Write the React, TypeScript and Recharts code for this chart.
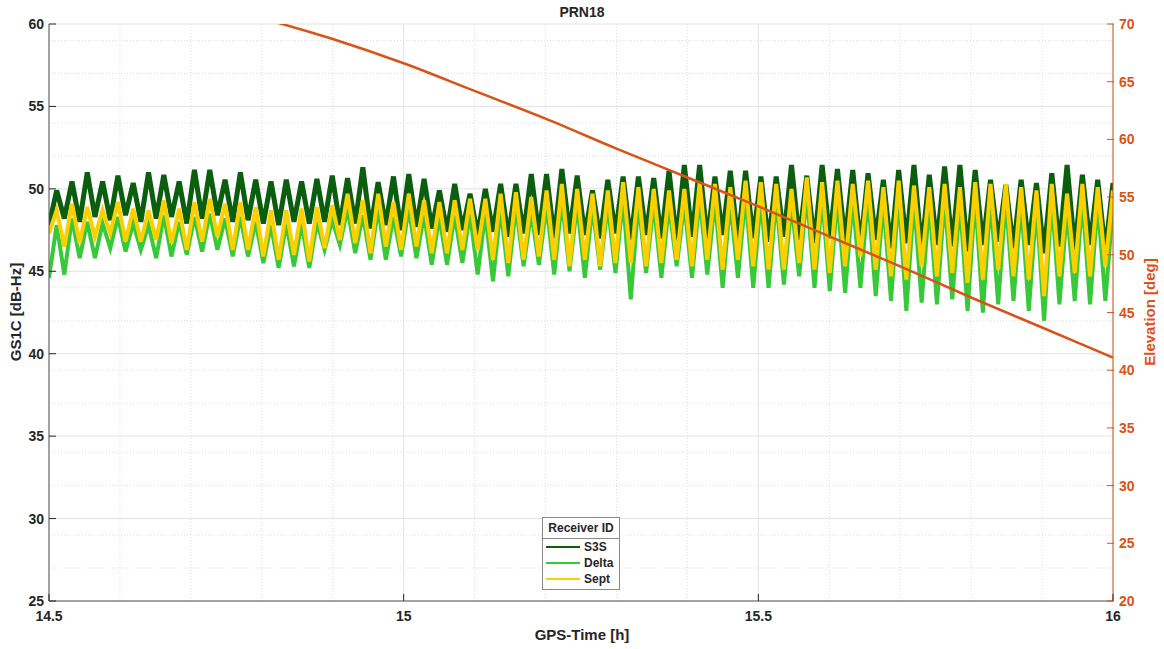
import { CartesianGrid, Line, LineChart, XAxis, YAxis } from "recharts";

// C/N0 per oscillation cycle (trough, peak), 14.5 h -> 16 h
const s3sLow = [
  47.8, 48.2, 48.0, 48.3, 48.1, 48.4, 48.0, 48.2, 48.3, 47.9, 48.2, 48.4, 48.0, 48.1, 47.9, 47.8, 48.0, 47.9,
  48.0, 47.8, 47.9, 47.6, 47.8, 47.5, 47.7, 47.6, 47.4, 47.5, 47.2, 47.4, 47.1, 47.3, 47.2, 47.0, 47.3, 47.2,
  47.0, 47.3, 46.9, 47.2, 47.0, 46.8, 47.1, 46.9, 47.2, 46.8, 47.0, 46.8, 47.1, 46.9, 46.7, 47.0,
  46.8, 46.5, 46.9, 46.4, 46.7, 46.3, 46.6, 46.5, 46.2, 46.6, 46.8, 46.4, 46.6, 46.1, 46.5, 46.3, 46.6, 46.2,
];
const s3sHigh = [
  49.9, 50.45, 51.0, 50.45, 50.8, 50.35, 51.0, 50.85, 50.45, 51.15, 51.15, 50.55, 51.0, 50.55, 50.45, 50.55, 50.45, 50.6,
  50.8, 50.65, 51.3, 50.4, 50.75, 50.9, 50.6, 49.9, 50.3, 49.7, 50.0, 50.3, 50.3, 50.9, 50.9, 51.2, 50.8, 49.9,
  50.55, 50.75, 50.75, 50.65, 51.1, 51.45, 51.45, 50.75, 51.1, 51.1, 50.75, 50.75, 51.45, 50.8, 51.45, 51.2,
  51.15, 50.95, 50.55, 51.15, 51.45, 50.85, 51.35, 51.45, 51.15, 50.55, 50.25, 50.55, 50.35, 50.95, 51.45, 50.85, 50.55, 50.35,
];
const deltaLow = [
  44.6, 44.8, 45.8, 45.8, 46.4, 46.2, 46.3, 45.8, 45.9, 46.0, 46.2, 46.3, 45.9, 45.9, 45.5, 45.2, 45.3, 45.2,
  46.3, 46.6, 46.1, 45.7, 45.7, 45.9, 45.8, 45.4, 45.4, 45.5, 44.8, 44.4, 44.7, 45.3, 45.4, 44.8, 45.0, 44.6,
  45.1, 44.9, 43.3, 44.9, 44.6, 45.3, 44.6, 44.8, 44.0, 44.6, 44.0, 44.0, 44.2, 44.7, 44.0, 43.8,
  43.7, 44.0, 43.5, 43.2, 42.6, 43.1, 43.0, 43.3, 42.6, 42.5, 43.0, 43.2, 42.6, 42.0, 43.0, 43.2, 43.0, 43.2,
];
const deltaHigh = [
  47.8, 48.2, 48.0, 47.9, 48.3, 47.9, 47.8, 48.4, 48.0, 48.3, 48.5, 48.2, 48.3, 48.0, 47.8, 47.9, 47.9, 48.0,
  48.1, 48.8, 48.4, 48.8, 48.3, 48.8, 48.4, 48.3, 48.4, 48.5, 48.5, 48.8, 48.9, 48.6, 49.0, 49.3, 49.1, 48.9,
  49.0, 49.4, 49.2, 49.1, 49.0, 49.1, 49.5, 49.3, 49.2, 49.6, 49.4, 49.4, 49.1, 49.7, 49.5, 49.5,
  49.4, 49.6, 49.2, 49.6, 49.3, 49.2, 49.4, 49.2, 49.5, 49.4, 49.4, 49.2, 49.0, 49.4, 48.8, 49.4, 49.2, 49.0,
];
const septLow = [
  47.3, 46.5, 46.7, 47.1, 47.3, 46.8, 46.8, 46.9, 46.7, 46.3, 46.8, 47.1, 46.3, 46.3, 45.9, 45.7, 46.0, 45.6,
  46.4, 46.9, 46.7, 46.1, 46.5, 46.3, 46.5, 46.1, 46.1, 46.3, 46.3, 45.7, 45.5, 45.7, 45.9, 45.7, 45.3, 45.7,
  45.3, 45.5, 45.5, 45.3, 45.5, 45.7, 45.3, 45.7, 45.1, 45.7, 45.3, 45.1, 45.1, 45.5, 45.1, 44.9,
  45.3, 45.9, 45.1, 44.7, 44.5, 45.3, 44.7, 44.9, 44.3, 44.5, 45.1, 44.7, 44.5, 43.5, 44.7, 44.9, 44.7, 45.3,
];
const septHigh = [
  48.7, 49.1, 48.9, 48.7, 49.2, 48.8, 48.7, 49.3, 48.8, 49.2, 49.4, 49.1, 49.2, 48.9, 48.7, 48.7, 48.8, 48.9,
  49.0, 49.7, 49.3, 49.7, 49.2, 49.7, 49.3, 49.2, 49.3, 49.4, 49.4, 49.7, 49.8, 49.5, 49.9, 50.3, 50.0, 49.7,
  49.9, 50.4, 50.1, 50.0, 49.9, 50.0, 50.4, 50.3, 50.1, 50.5, 50.4, 50.3, 50.0, 50.7, 50.4, 50.5,
  50.3, 50.5, 50.1, 50.5, 50.2, 50.1, 50.3, 50.1, 50.4, 50.3, 50.3, 50.1, 49.9, 50.3, 49.7, 50.3, 50.1, 49.9,
];

// satellite elevation (right axis)
const elevTime = [14.5, 14.6, 14.7, 14.8, 14.9, 15.0, 15.1, 15.2, 15.3, 15.4, 15.5, 15.6, 15.7, 15.8, 15.9, 16.0];
const elevDeg = [75.2, 73.8, 72.2, 70.5, 68.7, 66.6, 64.2, 61.8, 59.2, 56.7, 54.2, 51.6, 49.0, 46.3, 43.7, 41.1];

const timeTicks = [14.5, 15, 15.5, 16];
const timeMinor = [14.6, 14.7, 14.8, 14.9, 15.1, 15.2, 15.3, 15.4, 15.6, 15.7, 15.8, 15.9];
const cnoTicks = [25, 30, 35, 40, 45, 50, 55, 60];
const cnoMinor = [
  26, 27, 28, 29, 31, 32, 33, 34, 36, 37, 38, 39, 41, 42, 43, 44, 46, 47, 48, 49, 51, 52, 53, 54, 56, 57, 58, 59,
];
const elevTicks = [20, 25, 30, 35, 40, 45, 50, 55, 60, 65, 70];

const T0 = 14.5;
const T1 = 16;

const C_S3S = "#0b5e0e";
const C_DELTA = "#38c93a";
const C_SEPT = "#fcd000";
const C_ELEV = "#d95319";
const C_AXIS = "#262626";
const FONT = "'Liberation Sans', Arial, Helvetica, sans-serif";

const step = (T1 - T0) / (s3sLow.length * 2 - 1);
const cnoRows = s3sLow.flatMap((_, k) => [
  { t: T0 + 2 * k * step, s3s: s3sLow[k], delta: deltaLow[k], sept: septLow[k] },
  { t: T0 + (2 * k + 1) * step, s3s: s3sHigh[k], delta: deltaHigh[k], sept: septHigh[k] },
]);
const elevRows = elevTime.map((t, i) => ({ t, elev: elevDeg[i] }));

const legendItems = [
  { name: "S3S", color: C_S3S },
  { name: "Delta", color: C_DELTA },
  { name: "Sept", color: C_SEPT },
];

function LeftTick(props: any) {
  const { x, y, payload } = props;
  return (
    <g>
      <line x1={x + 5} x2={x + 12} y1={y} y2={y} stroke={C_AXIS} strokeWidth={1} />
      <text x={x} y={y} dy={5} textAnchor="end" fill={C_AXIS} fontSize={14} fontWeight="bold" fontFamily={FONT}>
        {payload.value}
      </text>
    </g>
  );
}

function RightTick(props: any) {
  const { x, y, payload } = props;
  return (
    <g>
      <line x1={x - 5} x2={x - 12} y1={y} y2={y} stroke={C_ELEV} strokeWidth={1} />
      <text x={x} y={y} dy={5} textAnchor="start" fill={C_ELEV} fontSize={14} fontWeight="bold" fontFamily={FONT}>
        {payload.value}
      </text>
    </g>
  );
}

function BottomTick(props: any) {
  const { x, y, payload } = props;
  return (
    <g>
      <line x1={x} x2={x} y1={y - 8} y2={y - 15} stroke={C_AXIS} strokeWidth={1} />
      <text x={x} y={y} dy={12} textAnchor="middle" fill={C_AXIS} fontSize={14} fontWeight="bold" fontFamily={FONT}>
        {payload.value}
      </text>
    </g>
  );
}

export default function App() {
  return (
    <div style={{ position: "absolute", left: 0, top: 0, width: 1164, height: 649, background: "#fff", fontFamily: FONT }}>
      <LineChart width={1164} height={649} margin={{ top: 24, right: 6, bottom: 18, left: 9 }}>
        <CartesianGrid
          yAxisId="left"
          horizontalValues={cnoMinor}
          verticalValues={timeMinor}
          stroke="#dcdcdc"
          strokeDasharray="1 2"
        />
        <CartesianGrid yAxisId="left" horizontalValues={cnoTicks} verticalValues={timeTicks} stroke="#e3e3e3" />
        <XAxis
          type="number"
          dataKey="t"
          domain={[T0, T1]}
          ticks={timeTicks}
          allowDataOverflow
          height={30}
          tickSize={0}
          tickMargin={8}
          tick={<BottomTick />}
          axisLine={{ stroke: "#555", strokeWidth: 1 }}
          tickLine={false}
        />
        <YAxis
          yAxisId="left"
          domain={[25, 60]}
          ticks={cnoTicks}
          allowDataOverflow
          width={40}
          tickSize={0}
          tickMargin={5}
          tick={<LeftTick />}
          axisLine={{ stroke: "#555", strokeWidth: 1 }}
          tickLine={false}
        />
        <YAxis
          yAxisId="right"
          orientation="right"
          domain={[20, 70]}
          ticks={elevTicks}
          allowDataOverflow
          width={45}
          tickSize={0}
          tickMargin={6}
          tick={<RightTick />}
          axisLine={{ stroke: C_ELEV, strokeWidth: 1 }}
          tickLine={false}
        />
        <Line yAxisId="left" data={cnoRows} dataKey="s3s" type="linear" stroke={C_S3S} strokeWidth={5} dot={false} isAnimationActive={false} />
        <Line yAxisId="left" data={cnoRows} dataKey="delta" type="linear" stroke={C_DELTA} strokeWidth={4} dot={false} isAnimationActive={false} />
        <Line yAxisId="left" data={cnoRows} dataKey="sept" type="linear" stroke={C_SEPT} strokeWidth={4} dot={false} isAnimationActive={false} />
        <Line yAxisId="right" data={elevRows} dataKey="elev" type="monotone" stroke={C_ELEV} strokeWidth={2.5} dot={false} isAnimationActive={false} />
      </LineChart>

      <div style={{ position: "absolute", left: 0, top: 4, width: 1164, textAlign: "center", fontSize: 14, fontWeight: "bold", color: C_AXIS }}>
        PRN18
      </div>
      <div style={{ position: "absolute", left: 0, top: 626, width: 1164, textAlign: "center", fontSize: 15, fontWeight: "bold", color: C_AXIS }}>
        GPS-Time [h]
      </div>
      <div
        style={{
          position: "absolute",
          left: 15,
          top: 312,
          transform: "translate(-50%, -50%) rotate(-90deg)",
          whiteSpace: "nowrap",
          fontSize: 15,
          fontWeight: "bold",
          color: C_AXIS,
        }}
      >
        GS1C [dB-Hz]
      </div>
      <div
        style={{
          position: "absolute",
          left: 1149,
          top: 312,
          transform: "translate(-50%, -50%) rotate(-90deg)",
          whiteSpace: "nowrap",
          fontSize: 15,
          fontWeight: "bold",
          color: C_ELEV,
        }}
      >
        Elevation [deg]
      </div>

      <div
        style={{
          position: "absolute",
          left: 542,
          top: 517,
          width: 76,
          height: 71,
          border: "1px solid #8a8a8a",
          background: "#fff",
          fontSize: 12,
          fontWeight: "bold",
          color: C_AXIS,
        }}
      >
        <div style={{ textAlign: "center", height: 20, lineHeight: "20px", borderBottom: "1px solid #8a8a8a" }}>Receiver ID</div>
        {legendItems.map((it) => (
          <div key={it.name} style={{ display: "flex", alignItems: "center", height: 16, paddingLeft: 3 }}>
            <div style={{ width: 34, height: 2, background: it.color, marginRight: 4 }} />
            <span>{it.name}</span>
          </div>
        ))}
      </div>
    </div>
  );
}
